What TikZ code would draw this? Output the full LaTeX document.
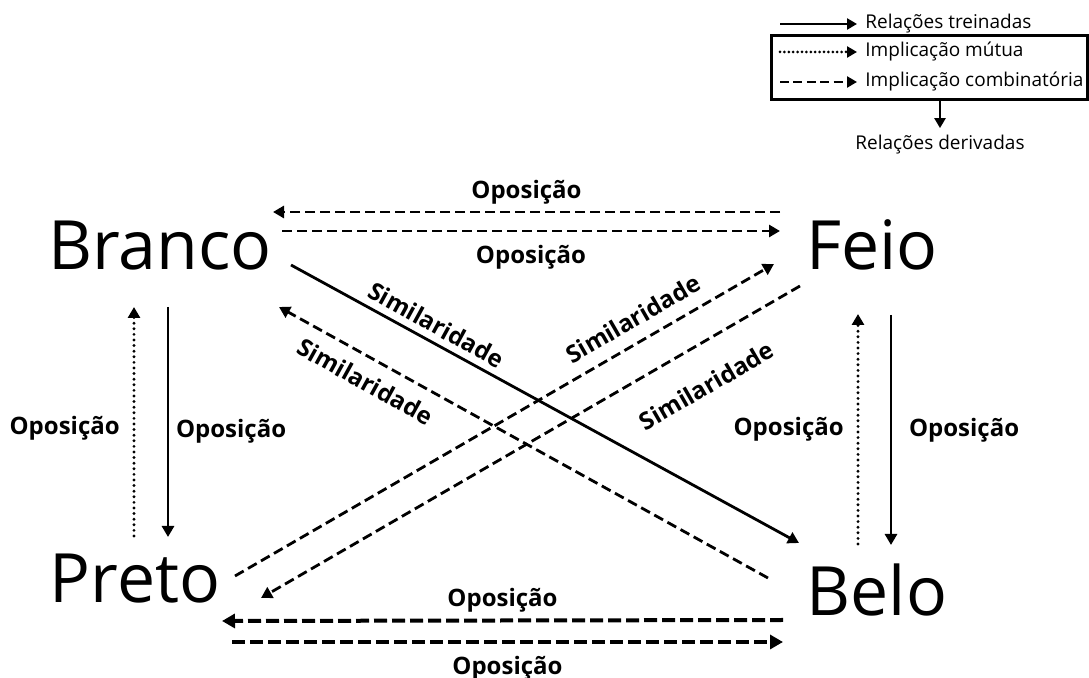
\documentclass[tikz,border=0pt]{standalone}
\usepackage{fontspec}
\setmainfont{Open Sans}
\usetikzlibrary{arrows.meta}
\usetikzlibrary{positioning}

\tikzset{
  termo/.style={font=\fontsize{34}{37}\selectfont, inner sep=0pt, anchor=base},
  rotulo/.style={font=\fontsize{12}{14}\selectfont\bfseries},
  legenda/.style={font=\fontsize{9.5}{11}\selectfont, inner sep=0pt, anchor=west},
  seta/.style={line width=1.4pt, -{Triangle[length=5.5pt,width=6pt]}},
  treinada/.style={seta},
  mutua/.style={seta, line width=1.6pt, line cap=round, dash pattern=on 0pt off 2.8pt},
  combinada/.style={seta, dash pattern=on 5pt off 2.5pt},
  grossa/.style={seta, line width=2pt, dash pattern=on 6.5pt off 2.5pt, -{Triangle[length=6.5pt,width=7pt]}},
  setaleg/.style={line width=1.3pt, -{Triangle[length=5pt,width=5.5pt]}},
}

\begin{document}
\begin{tikzpicture}[x=0.5pt, y=-0.5pt]
\useasboundingbox (0,0) rectangle (1089,678);

% legenda
\node[legenda] (treinadas) at (865,24) {Relações treinadas};
\node[legenda] (mutua) at (865,52) {Implicação mútua};
\node[legenda] (combinatoria) at (865,82) {Implicação combinatória};
\node[legenda, anchor=center] (derivadas) at (940,145) {Relações derivadas};
\node[draw, line width=1.5pt, minimum width=158pt, minimum height=32pt, inner sep=0pt] (caixa) at (929.5,67.5) {};
\coordinate (l1) at (780,24);
\coordinate (l2) at (780,52);
\coordinate (l3) at (780,82);
\draw[setaleg] (l1) -- ([xshift=-4pt]treinadas.west);
\draw[setaleg, line width=1.5pt, line cap=round, dash pattern=on 0pt off 2.2pt] (l2) -- ([xshift=-4pt]mutua.west);
\draw[setaleg, dash pattern=on 4.5pt off 2.2pt] (l3) -- ([xshift=-4pt]combinatoria.west);
\draw[setaleg] (caixa.south -| derivadas) -- ([yshift=3.5pt]derivadas.north);

% termos
\node[termo] (Branco) at (160,270) {Branco};
\node[termo] (Feio) at (872,270) {Feio};
\node[termo] (Preto) at (135,603) {Preto};
\node[termo] (Belo) at (877,616) {Belo};

% Branco -- Feio
\draw[combinada] ([shift={(-92,-58)}]Feio.base) -- node[rotulo, above] (op1) {Oposição} ([shift={(113,-58)}]Branco.base);
\draw[combinada] ([shift={(122,-39)}]Branco.base) -- node[rotulo, below=3pt] (op2) {Oposição} ([shift={(-92,-39)}]Feio.base);

% Branco -- Preto
\draw[mutua] ([shift={(-1,-67)}]Preto.base) -- node[rotulo, left=3pt, pos=0.47] (op3) {Oposição} ([shift={(-26,37)}]Branco.base);
\draw[treinada] ([shift={(8,37)}]Branco.base) -- node[rotulo, right, pos=0.54] (op4) {Oposição} ([shift={(33,-66)}]Preto.base);

% Feio -- Belo
\draw[mutua] ([shift={(-19,-72)}]Belo.base) -- node[rotulo, left=3pt] (op5) {Oposição} ([shift={(-14,44)}]Feio.base);
\draw[treinada] ([shift={(19,45)}]Feio.base) -- node[rotulo, right=5pt] (op6) {Oposição} ([shift={(14,-71)}]Belo.base);

% diagonais
\draw[treinada] ([shift={(131,-5)}]Branco.base) -- node[rotulo, sloped, above, pos=0.27] (sim1) {Similaridade} ([shift={(-78,-73)}]Belo.base);
\draw[combinada] ([shift={(-109,-38)}]Belo.base) -- node[rotulo, sloped, below=3pt, pos=0.80] (sim2) {Similaridade} ([shift={(119,37)}]Branco.base);
\draw[combinada] ([shift={(100,-27)}]Preto.base) -- node[rotulo, sloped, above=3pt, pos=0.76] (sim3) {Similaridade} ([shift={(-98,-6)}]Feio.base);
\draw[combinada] ([shift={(-72,16)}]Feio.base) -- node[rotulo, sloped, below=11pt, pos=0.21] (sim4) {Similaridade} ([shift={(126,-5)}]Preto.base);

% Preto -- Belo
\draw[grossa] ([shift={(-94,4)}]Belo.base) -- node[rotulo, above] (op7) {Oposição} ([shift={(87,18)}]Preto.base);
\draw[grossa] ([shift={(97,39)}]Preto.base) -- node[rotulo, below=3pt] (op8) {Oposição} ([shift={(-94,26)}]Belo.base);
\end{tikzpicture}
\end{document}
